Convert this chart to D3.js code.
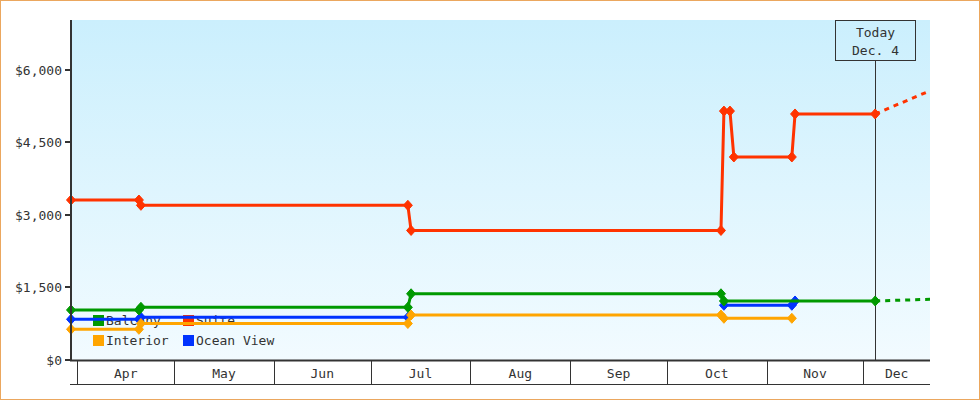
<!DOCTYPE html>
<html>
<head>
<meta charset="utf-8">
<script src="https://cdn.jsdelivr.net/npm/d3@7"></script>
<style>
  html, body { margin: 0; padding: 0; background: #fff; }
  svg { display: block; }
  text { font-family: "DejaVu Sans Mono", monospace; font-size: 13px; fill: #333; }
</style>
</head>
<body>
<svg id="chart" width="980" height="400"></svg>
<script>
// ---------- data ----------
const seriesNames = ["Balcony", "Suite", "Interior", "Ocean View"];
const seriesColors = ["#009900", "#ff3300", "#ffa500", "#0033ff"];

const suiteDates = ["2015-03-30 00:00","2015-04-20 02:00","2015-04-20 17:00","2015-07-12 14:00","2015-07-13 14:00","2015-10-17 19:00","2015-10-18 17:00","2015-10-20 14:00","2015-10-21 19:00","2015-11-08 19:00","2015-11-09 19:00","2015-12-04 16:00"];
const suitePrices = [3310, 3310, 3200, 3200, 2680, 2680, 5150, 5150, 4200, 4200, 5090, 5090];

const balconyDates = ["2015-03-30 00:00","2015-04-20 02:00","2015-04-20 17:00","2015-07-12 14:00","2015-07-13 14:00","2015-10-17 19:00","2015-10-18 17:00","2015-12-04 16:00"];
const balconyPrices = [1035, 1035, 1090, 1090, 1370, 1370, 1221, 1221];

const interiorDates = ["2015-03-30 00:00","2015-04-20 02:00","2015-04-20 17:00","2015-07-12 14:00","2015-07-13 14:00","2015-10-17 19:00","2015-10-18 17:00","2015-11-08 19:00"];
const interiorPrices = [635, 635, 755, 755, 931, 931, 863, 863];

// null = no fare published (gap in the line)
const oceanViewDates = ["2015-03-30 00:00","2015-04-20 02:00","2015-04-20 17:00","2015-07-12 14:00","2015-07-13 14:00","2015-10-18 17:00","2015-11-08 19:00","2015-11-09 19:00"];
const oceanViewPrices = [842, 842, 883, 883, null, 1132, 1132, 1221];

// projected prices after today (dashed)
const projectionSeries = ["Suite", "Balcony"];
const projectionPrices = [5570, 1256];

const todayDate = "2015-12-04 16:00";
const todayLabel = ["Today", "Dec. 4"];
const xDomain = ["2015-03-30 00:00", "2015-12-21 16:30"];
const monthLabels = ["Apr", "May", "Jun", "Jul", "Aug", "Sep", "Oct", "Nov", "Dec"];
const yTicks = [0, 1500, 3000, 4500, 6000];
const yMax = 7034;

// ---------- setup ----------
const parse = d3.utcParse("%Y-%m-%d %H:%M");
const svg = d3.select("#chart");
const W = 980, H = 400;
const pLeft = 71, pRight = 930, pTop = 20, pBottom = 360, axisBoxBottom = 384.5;

const x = d3.scaleUtc().domain(xDomain.map(parse)).range([pLeft, pRight]);
const y = d3.scaleLinear().domain([0, yMax]).range([pBottom, pTop]);

// outer border
svg.append("rect").attr("x", 0.5).attr("y", 0.5).attr("width", W - 1).attr("height", H - 1)
  .attr("fill", "#fff").attr("stroke", "#eba75e").attr("stroke-width", 1);

// background gradient
const defs = svg.append("defs");
const grad = defs.append("linearGradient").attr("id", "bg").attr("x1", 0).attr("y1", 0).attr("x2", 0).attr("y2", 1);
grad.append("stop").attr("offset", "0%").attr("stop-color", "#cbeffd");
grad.append("stop").attr("offset", "100%").attr("stop-color", "#f2fbff");
svg.append("rect").attr("x", pLeft).attr("y", pTop).attr("width", pRight - pLeft).attr("height", pBottom - pTop)
  .attr("fill", "url(#bg)");

defs.append("clipPath").attr("id", "plotclip").append("rect")
  .attr("x", pLeft).attr("y", pTop - 10).attr("width", pRight - pLeft).attr("height", pBottom - pTop + 10);

// ---------- legend (under the lines) ----------
const legendPos = [[93, 315], [183, 315], [93, 335], [183, 335]];
seriesNames.forEach((name, i) => {
  const [lx, ly] = legendPos[i];
  svg.append("rect").attr("x", lx).attr("y", ly).attr("width", 11).attr("height", 11).attr("fill", seriesColors[i]);
  svg.append("text").attr("x", lx + 13).attr("y", ly + 10).text(name);
});

// ---------- today marker ----------
const tx = Math.round(x(parse(todayDate))) + 0.5;
svg.append("line").attr("x1", tx).attr("x2", tx).attr("y1", 60.5).attr("y2", pBottom)
  .attr("stroke", "#333").attr("stroke-width", 1);
svg.append("rect").attr("x", tx - 40).attr("y", 20.5).attr("width", 80).attr("height", 40)
  .attr("fill", "none").attr("stroke", "#333").attr("stroke-width", 1);
svg.append("text").attr("x", tx).attr("y", 37).attr("text-anchor", "middle").text(todayLabel[0]);
svg.append("text").attr("x", tx).attr("y", 55).attr("text-anchor", "middle").text(todayLabel[1]);

// ---------- series ----------
const seriesData = {
  "Balcony": balconyDates.map((d, i) => ({ date: parse(d), v: balconyPrices[i] })),
  "Suite": suiteDates.map((d, i) => ({ date: parse(d), v: suitePrices[i] })),
  "Interior": interiorDates.map((d, i) => ({ date: parse(d), v: interiorPrices[i] })),
  "Ocean View": oceanViewDates.map((d, i) => ({ date: parse(d), v: oceanViewPrices[i] }))
};
const line = d3.line().defined(d => d.v != null).x(d => x(d.date)).y(d => y(d.v));
const diamond = "M0,-5L4.5,0L0,5L-4.5,0Z";
const plot = svg.append("g").attr("clip-path", "url(#plotclip)");

const drawOrder = ["Ocean View", "Interior", "Balcony", "Suite"];
drawOrder.forEach(name => {
  const i = seriesNames.indexOf(name);
  const data = seriesData[name];
  const g = svg.append("g");
  g.append("path").datum(data).attr("d", line).attr("fill", "none")
    .attr("stroke", seriesColors[i]).attr("stroke-width", 3).attr("stroke-linejoin", "round");
  const pj = projectionSeries.indexOf(name);
  if (pj >= 0) {
    const last = data[data.length - 1];
    plot.append("path").datum([last, { date: x.domain()[1], v: projectionPrices[pj] }])
      .attr("d", line).attr("fill", "none").attr("stroke", seriesColors[i])
      .attr("stroke-width", 3).attr("stroke-dasharray", "5,5");
  }
  g.selectAll("path.pt").data(data.filter(d => d.v != null)).join("path").attr("class", "pt")
    .attr("d", diamond).attr("transform", d => `translate(${x(d.date)},${y(d.v)})`)
    .attr("fill", seriesColors[i]).attr("stroke", seriesColors[i]).attr("stroke-width", 1).attr("stroke-linejoin", "round");
});

// ---------- y axis ----------
const yAxisG = svg.append("g");
yAxisG.append("line").attr("x1", 71).attr("x2", 71).attr("y1", pTop).attr("y2", pBottom + 1)
  .attr("stroke", "#333").attr("stroke-width", 2);
yTicks.forEach(t => {
  const yy = Math.round(y(t));
  yAxisG.append("line").attr("x1", 65).attr("x2", 71).attr("y1", yy).attr("y2", yy)
    .attr("stroke", "#333").attr("stroke-width", 2);
  yAxisG.append("text").attr("x", 62).attr("y", yy + 5).attr("text-anchor", "end").text(d3.format("$,")(t));
});

// ---------- x axis (month bands) ----------
const xAxisG = svg.append("g");
xAxisG.append("line").attr("x1", 70).attr("x2", pRight).attr("y1", pBottom + 0.5).attr("y2", pBottom + 0.5)
  .attr("stroke", "#333").attr("stroke-width", 2);
xAxisG.append("line").attr("x1", 70).attr("x2", pRight).attr("y1", axisBoxBottom).attr("y2", axisBoxBottom)
  .attr("stroke", "#333").attr("stroke-width", 1);
const [d0, d1] = x.domain();
const months = d3.utcMonth.range(d3.utcMonth.ceil(d0), d1);
months.forEach((m, i) => {
  const mx = Math.round(x(m)) + 0.5;
  xAxisG.append("line").attr("x1", mx).attr("x2", mx).attr("y1", pBottom).attr("y2", axisBoxBottom)
    .attr("stroke", "#333").attr("stroke-width", 1);
  const next = d3.utcMonth.offset(m, 1);
  const cx = (x(m) + x(next < d1 ? next : d1)) / 2;
  xAxisG.append("text").attr("x", cx).attr("y", 378).attr("text-anchor", "middle").text(monthLabels[i]);
});
</script>
</body>
</html>
